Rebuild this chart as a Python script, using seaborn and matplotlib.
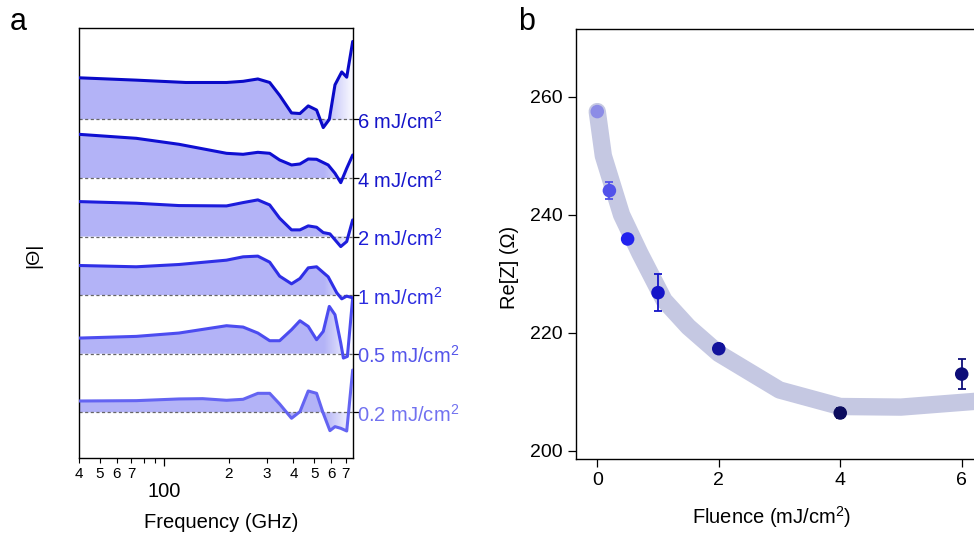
import numpy as np
import pandas as pd
import matplotlib
matplotlib.use("Agg")
import matplotlib.pyplot as plt
import seaborn as sns

sns.set_theme(style="ticks")
plt.rcParams["font.family"] = ["Liberation Sans", "DejaVu Sans"]
plt.rcParams["mathtext.fontset"] = "custom"
plt.rcParams["mathtext.rm"] = "Liberation Sans"
plt.rcParams["mathtext.it"] = "Liberation Sans:italic"
plt.rcParams["axes.edgecolor"] = "black"
plt.rcParams["xtick.color"] = "black"
plt.rcParams["ytick.color"] = "black"
plt.rcParams["text.color"] = "black"
plt.rcParams["axes.labelcolor"] = "black"

# ---------------- Panel a data (|Theta| spectra, offset stacked) ----------------
fluence_labels = ["0.2", "0.5", "1", "2", "4", "6"]

freq_02 = [40, 74, 117, 151, 195, 233, 273, 310, 345, 392, 429, 469, 513, 551, 592, 625, 665, 709, 756]
theta_02 = [0.193, 0.199, 0.228, 0.233, 0.205, 0.222, 0.324, 0.324, 0.142, -0.102, 0.011, 0.364, 0.324,
            -0.017, -0.313, -0.245, -0.273, -0.319, 0.722]

freq_05 = [40, 74, 117, 195, 233, 273, 310, 345, 392, 429, 469, 513, 551, 588, 625, 665, 684, 714, 756]
theta_05 = [0.267, 0.296, 0.353, 0.478, 0.455, 0.353, 0.222, 0.222, 0.41, 0.563, 0.466, 0.239, 0.381,
            0.808, 0.666, 0.182, -0.074, -0.046, 0.95]

freq_1 = [40, 74, 117, 195, 233, 273, 310, 345, 392, 429, 469, 513, 581, 637, 672, 709, 756]
theta_1 = [0.506, 0.484, 0.523, 0.597, 0.654, 0.666, 0.563, 0.324, 0.193, 0.284, 0.466, 0.484, 0.313,
           0.04, -0.063, -0.017, -0.046]

freq_2 = [40, 74, 117, 195, 233, 273, 310, 345, 392, 429, 469, 513, 551, 592, 665, 709, 756]
theta_2 = [0.597, 0.569, 0.529, 0.523, 0.58, 0.626, 0.54, 0.313, 0.114, 0.114, 0.182, 0.159, 0.068,
           0.046, -0.171, -0.085, 0.284]

freq_4 = [40, 74, 117, 195, 233, 273, 310, 345, 392, 429, 469, 513, 581, 625, 665, 709, 756]
theta_4 = [0.745, 0.677, 0.575, 0.421, 0.404, 0.438, 0.421, 0.307, 0.222, 0.239, 0.324, 0.319, 0.222,
           0.08, -0.08, 0.165, 0.392]

freq_6 = [40, 74, 126, 195, 233, 273, 310, 345, 392, 429, 469, 513, 551, 588, 625, 672, 709, 756]
theta_6 = [0.71, 0.67, 0.63, 0.63, 0.65, 0.69, 0.63, 0.41, 0.11, 0.10, 0.23, 0.16, -0.14, 0.0, 0.59,
           0.81, 0.72, 1.33]

freqs = [freq_02, freq_05, freq_1, freq_2, freq_4, freq_6]
thetas = [theta_02, theta_05, theta_1, theta_2, theta_4, theta_6]
line_colors = ["#6464f2", "#4c4cf0", "#2f2fe6", "#1d1ddc", "#0f0fd2", "#0a0ac8"]
text_colors = ["#7272f0", "#5454ea", "#2c2ce0", "#1e1ed8", "#1616cc", "#1414c8"]

minor_vals = [40, 50, 60, 70, 80, 90, 200, 300, 400, 500, 600, 700]
minor_labels = ["4", "5", "6", "7", "", "", "2", "3", "4", "5", "6", "7"]

# ---------------- Panel b data ----------------
fluence_b = [0, 0.2, 0.5, 1, 2, 4, 6]
rez_b = [257.5, 244.1, 235.9, 226.8, 217.3, 206.4, 213.0]
rez_err = [0.0, 1.4, 0.0, 3.1, 0.8, 0.8, 2.5]
point_colors = ["#8c8ce6", "#5252ea", "#2222ee", "#1414c8", "#12129c", "#0c0c5e", "#0d0d78"]

fit_x = [0, 0.1, 0.4, 0.7, 1.1, 1.5, 2, 3, 4, 5, 6, 7]
fit_y = [257.5, 250, 240, 233.5, 225.5, 221, 216.5, 210.3, 207.5, 207.4, 208.2, 209]

# ---------------- Figure ----------------
fig = plt.figure(figsize=(9.74, 5.37), dpi=100)
W, H = 974, 537

def ax_rect(l, t, r, b):
    return [l / W, 1 - b / H, (r - l) / W, (b - t) / H]

axa = fig.add_axes(ax_rect(79, 28, 352.7, 458))
axb = fig.add_axes(ax_rect(576, 29, 1000, 459))

# ---- Panel a ----
axa.set_xscale("log")
fill_color = "#b3b3f7"
grad = np.ones((1, 400, 4))
xs = np.linspace(0, 1, 400)
grad[0, :, 3] = np.clip((xs - 0.895) / 0.105, 0, 1) * 0.95

for i, (f, th) in enumerate(zip(freqs, thetas)):
    f = np.array(f, float)
    y = i + np.array(th, float)
    coll = axa.fill_between(f, i, y, facecolor=fill_color, edgecolor="none", linewidth=0, zorder=1)
    im = axa.imshow(grad, extent=[0, 1, 0, 1], transform=axa.transAxes, aspect="auto",
                    interpolation="bilinear", zorder=1.5)
    im.set_clip_path(coll.get_paths()[0], coll.get_transform())
    axa.axhline(i, color="#666666", lw=0.9, ls=(0, (2.5, 2)), zorder=2.5)
    sns.lineplot(x=f, y=y, ax=axa, color=line_colors[i], lw=2.2, estimator=None, sort=False,
                 zorder=3)
    axa.text(1.017, i - 0.16, fluence_labels[i] + r" mJ/cm$^{2}$", transform=axa.get_yaxis_transform(),
             color=text_colors[i], fontsize=14.5, ha="left", va="baseline", clip_on=False)

axa.set_xlim(40, 756)
axa.set_ylim(-0.78, 6.56)
axa.set_xticks([100])
axa.set_xticklabels(["100"])
axa.set_xticks(minor_vals, minor=True)
axa.set_xticklabels(minor_labels, minor=True)
axa.tick_params(axis="x", which="major", length=6, width=0.9, labelsize=14.5, pad=11, direction="out")
axa.tick_params(axis="x", which="minor", length=3.5, width=0.8, labelsize=11, pad=3, direction="out")
axa.yaxis.set_ticks_position("right")
axa.set_yticks(range(6))
axa.set_yticklabels([])
axa.tick_params(axis="y", length=4, width=0.9, direction="out")
for s in axa.spines.values():
    s.set_color("black")
    s.set_linewidth(1.0)
axa.set_xlabel("Frequency (GHz)", fontsize=14.5)
axa.xaxis.set_label_coords(0.521, -0.128)
axa.set_ylabel("|Θ|", fontsize=14)
axa.yaxis.set_label_position("left")
axa.yaxis.set_label_coords(-0.135, 0.472)

# ---- Panel b ----
sns.lineplot(x=fit_x, y=fit_y, ax=axb, color="#c5c8e2", lw=12.5, solid_capstyle="round",
             solid_joinstyle="round", zorder=2, estimator=None, sort=False)
for x, y, e, c in zip(fluence_b, rez_b, rez_err, point_colors):
    if e > 0:
        axb.errorbar([x], [y], yerr=[e], fmt="none", ecolor=c, elinewidth=1.3, capsize=3.2,
                     capthick=1.3, zorder=3)
df_b = pd.DataFrame({"fluence": fluence_b, "rez": rez_b, "lab": [str(v) for v in fluence_b]})
sns.scatterplot(data=df_b, x="fluence", y="rez", hue="lab", palette=point_colors, s=95,
                edgecolor="none", legend=False, ax=axb, zorder=4)

axb.set_xlim(-0.35, 6.63)
axb.set_ylim(198.6, 271.5)
axb.set_xticks([0, 2, 4, 6])
axb.set_yticks([200, 220, 240, 260])
axb.tick_params(axis="both", length=5.5, width=0.9, labelsize=14, direction="out", pad=4)
for s in axb.spines.values():
    s.set_color("black")
    s.set_linewidth(1.0)
axb.set_xlabel(r"Fluence (mJ/cm$^{2}$)", fontsize=14.5)
axb.xaxis.set_label_coords(0.462, -0.105)
axb.set_ylabel("Re[Z] (Ω)", fontsize=14.5)
axb.yaxis.set_label_coords(-0.135, 0.445)

fig.text(18 / W, 1 - 22 / H, "a", fontsize=22, ha="center", va="center")
fig.text(527 / W, 1 - 22 / H, "b", fontsize=22, ha="center", va="center")

fig.savefig("out.png", dpi=100)
